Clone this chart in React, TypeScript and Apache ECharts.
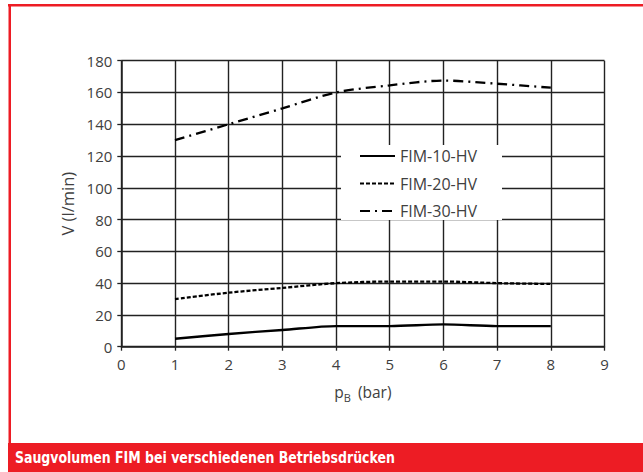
import React, { useEffect, useRef } from "react";
import * as echarts from "echarts";

const pressures = [1, 2, 3, 4, 5, 6, 7, 8];
const fim10 = [5, 8, 10.5, 13, 13, 14, 13, 13];
const fim20 = [30, 34, 37, 40, 41, 41, 40, 39.5];
const fim30 = [130, 140, 150, 160, 164.5, 167.5, 165.5, 163];
const seriesNames = ["FIM-10-HV", "FIM-20-HV", "FIM-30-HV"];
const caption = "Saugvolumen FIM bei verschiedenen Betriebsdrücken";

const RED = "#ED1C24";
const FONT = "'Open Sans', 'Liberation Sans', sans-serif";
const TXT = "#404040";
const dashes: (number[] | null)[] = [null, [4, 2], [10, 5, 2, 5]];

export default function App() {
  const ref = useRef<HTMLDivElement>(null);
  useEffect(() => {
    if (!ref.current) return;
    const chart = echarts.init(ref.current, undefined, { renderer: "svg" });
    const toPts = (vals: number[]) => pressures.map((p, i) => [p, vals[i]]);
    const allVals = [fim10, fim20, fim30];
    const legendItems: any[] = [];
    seriesNames.forEach((n, i) => {
      const cy = 156 + i * 27.5;
      const lineStyle: any = { stroke: "#000", lineWidth: 2.2 };
      if (dashes[i]) lineStyle.lineDash = dashes[i];
      legendItems.push({
        type: "line",
        z: 20,
        shape: { x1: 360, y1: cy, x2: 395, y2: cy },
        style: lineStyle,
      });
      legendItems.push({
        type: "text",
        z: 20,
        x: 400,
        y: cy,
        style: {
          text: n,
          fill: TXT,
          font: `16px ${FONT}`,
          verticalAlign: "middle",
          align: "left",
        },
      });
    });
    chart.setOption({
      animation: false,
      backgroundColor: "#ffffff",
      grid: { left: 121.3, right: 38.5, top: 60.7, bottom: 125.3 },
      xAxis: {
        type: "value",
        min: 0,
        max: 9,
        interval: 1,
        name: "{a|p}{b|B}{a| (bar)}",
        nameLocation: "middle",
        nameGap: 35,
        nameTextStyle: {
          rich: {
            a: { fontFamily: FONT, fontSize: 15.5, color: TXT },
            b: { fontFamily: FONT, fontSize: 11, color: TXT, padding: [10, 3, 0, 0] },
          },
        },
        axisLine: { show: true, onZero: false, lineStyle: { color: "#222", width: 1.5 } },
        axisTick: { show: true, length: 4, lineStyle: { color: "#222", width: 1.3 } },
        axisLabel: { color: TXT, fontFamily: FONT, fontSize: 15, margin: 10 },
        splitLine: { show: true, lineStyle: { color: "#222", width: 1.4 } },
      },
      yAxis: {
        type: "value",
        min: 0,
        max: 180,
        interval: 20,
        name: "V (l/min)",
        nameLocation: "middle",
        nameGap: 44,
        nameRotate: 90,
        nameTextStyle: { fontFamily: FONT, fontSize: 16.5, color: TXT },
        axisLine: { show: true, onZero: false, lineStyle: { color: "#222", width: 1.5 } },
        axisTick: { show: true, length: 4, lineStyle: { color: "#222", width: 1.3 } },
        axisLabel: { color: TXT, fontFamily: FONT, fontSize: 15, margin: 9 },
        splitLine: { show: true, lineStyle: { color: "#222", width: 1.4 } },
      },
      series: seriesNames.map((n, i) => ({
        type: "line",
        name: n,
        showSymbol: false,
        symbol: "none",
        smooth: 0.3,
        data: toPts(allVals[i]),
        lineStyle: { color: "#000", width: 2.3, type: dashes[i] || "solid" },
        itemStyle: { color: "#000" },
      })),
      graphic: [
        { type: "rect", shape: { x: 8, y: 4, width: 640, height: 2.5 }, style: { fill: RED } },
        { type: "rect", shape: { x: 8.5, y: 4, width: 2.5, height: 442 }, style: { fill: RED } },
        { type: "rect", shape: { x: 8, y: 443, width: 640, height: 29 }, style: { fill: RED } },
        {
          type: "text",
          x: 15,
          y: 458,
          scaleX: 0.87,
          style: {
            text: caption,
            fill: "#ffffff",
            font: "bold 16px 'DejaVu Sans Condensed', 'Roboto', sans-serif",
            verticalAlign: "middle",
            align: "left",
          },
        },
        {
          type: "rect",
          z: 10,
          shape: { x: 341, y: 145, width: 161, height: 75 },
          style: { fill: "#ffffff" },
        },
        ...legendItems,
      ],
    });
    return () => chart.dispose();
  }, []);
  return (
    <div
      ref={ref}
      style={{ position: "absolute", left: 0, top: 0, width: 643, height: 472 }}
    />
  );
}
